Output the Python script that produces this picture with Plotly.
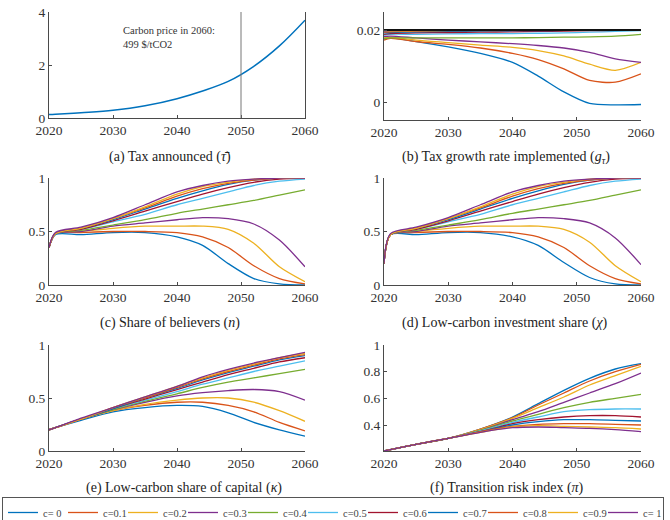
import plotly.graph_objects as go

W, H = 670, 520

YEARS = [2020, 2021, 2025, 2030, 2035, 2040, 2044, 2048, 2052, 2056, 2060]
C_LABELS = ["c= 0", "c=0.1", "c=0.2", "c=0.3", "c=0.4", "c=0.5",
            "c=0.6", "c=0.7", "c=0.8", "c=0.9", "c= 1"]
COLORS = ["#0072BD", "#D95319", "#EDB120", "#7E2F8E", "#77AC30", "#4DBEEE",
          "#A2142F", "#0072BD", "#D95319", "#EDB120", "#7E2F8E"]

# (a) tax announced
TAU = [0.13, 0.14, 0.20, 0.29, 0.46, 0.73, 1.02, 1.38, 1.95, 2.72, 3.69]
TAU_LINE_YEAR = 2050
ANNOUNCED_G = [0.02] * len(YEARS)

# (b) tax growth rate implemented
G = [
    [0.0175, 0.0178, 0.0168, 0.0153, 0.0135, 0.0110, 0.0072, 0.0028, -0.0004, -0.0008, -0.0007],
    [0.0172, 0.0177, 0.0168, 0.0160, 0.0150, 0.0135, 0.0118, 0.0092, 0.0060, 0.0055, 0.0078],
    [0.0178, 0.0180, 0.0172, 0.0165, 0.0158, 0.0152, 0.0143, 0.0128, 0.0105, 0.0088, 0.0110],
    [0.0182, 0.0183, 0.0178, 0.0172, 0.0167, 0.0162, 0.0157, 0.0150, 0.0138, 0.0120, 0.0110],
    [0.0176, 0.0178, 0.0178, 0.0178, 0.0178, 0.0178, 0.0179, 0.0180, 0.0181, 0.0183, 0.0188],
    [0.0186, 0.0188, 0.0188, 0.0189, 0.0190, 0.0190, 0.0191, 0.0192, 0.0194, 0.0196, 0.0198],
    [0.0188, 0.0190, 0.0192, 0.0193, 0.0194, 0.0195, 0.0196, 0.0197, 0.0198, 0.0199, 0.0200],
    [0.0192, 0.0193, 0.0195, 0.0196, 0.0197, 0.0198, 0.0198, 0.0199, 0.0200, 0.0200, 0.0200],
    [0.0194, 0.0195, 0.0197, 0.0198, 0.0198, 0.0199, 0.0199, 0.0200, 0.0200, 0.0200, 0.0200],
    [0.0196, 0.0197, 0.0198, 0.0199, 0.0199, 0.0200, 0.0200, 0.0200, 0.0200, 0.0200, 0.0200],
    [0.0197, 0.0198, 0.0199, 0.0200, 0.0200, 0.0200, 0.0200, 0.0200, 0.0200, 0.0200, 0.0200],
]

# (c) share of believers
N = [
    [0.35, 0.47, 0.47, 0.49, 0.49, 0.45, 0.37, 0.20, 0.06, 0.01, 0.00],
    [0.35, 0.48, 0.49, 0.50, 0.50, 0.49, 0.45, 0.35, 0.18, 0.06, 0.01],
    [0.35, 0.48, 0.50, 0.53, 0.55, 0.55, 0.55, 0.52, 0.39, 0.17, 0.03],
    [0.35, 0.48, 0.50, 0.55, 0.58, 0.61, 0.63, 0.62, 0.57, 0.42, 0.17],
    [0.35, 0.48, 0.51, 0.56, 0.61, 0.67, 0.71, 0.75, 0.79, 0.84, 0.89],
    [0.35, 0.48, 0.52, 0.59, 0.66, 0.75, 0.81, 0.87, 0.93, 0.97, 0.99],
    [0.35, 0.48, 0.52, 0.60, 0.69, 0.78, 0.85, 0.91, 0.96, 0.99, 1.00],
    [0.35, 0.48, 0.53, 0.61, 0.71, 0.81, 0.88, 0.94, 0.98, 1.00, 1.00],
    [0.35, 0.48, 0.53, 0.62, 0.72, 0.83, 0.90, 0.95, 0.98, 1.00, 1.00],
    [0.35, 0.48, 0.53, 0.62, 0.73, 0.85, 0.92, 0.96, 0.99, 1.00, 1.00],
    [0.35, 0.49, 0.54, 0.63, 0.75, 0.87, 0.93, 0.97, 0.99, 1.00, 1.00],
]

# (d) low-carbon investment share
CHI = [
    [0.20, 0.47, 0.47, 0.49, 0.49, 0.45, 0.37, 0.21, 0.07, 0.01, 0.00],
    [0.20, 0.47, 0.49, 0.50, 0.50, 0.49, 0.45, 0.35, 0.18, 0.06, 0.01],
    [0.20, 0.47, 0.50, 0.53, 0.55, 0.55, 0.55, 0.52, 0.40, 0.18, 0.03],
    [0.20, 0.47, 0.50, 0.55, 0.58, 0.61, 0.63, 0.62, 0.58, 0.44, 0.19],
    [0.20, 0.47, 0.51, 0.56, 0.61, 0.67, 0.71, 0.75, 0.79, 0.84, 0.89],
    [0.20, 0.47, 0.52, 0.59, 0.66, 0.75, 0.81, 0.87, 0.93, 0.97, 0.99],
    [0.20, 0.47, 0.52, 0.60, 0.69, 0.78, 0.85, 0.91, 0.96, 0.99, 1.00],
    [0.20, 0.47, 0.53, 0.61, 0.71, 0.81, 0.88, 0.94, 0.98, 1.00, 1.00],
    [0.20, 0.47, 0.53, 0.62, 0.72, 0.83, 0.90, 0.95, 0.98, 1.00, 1.00],
    [0.20, 0.47, 0.53, 0.62, 0.73, 0.85, 0.92, 0.96, 0.99, 1.00, 1.00],
    [0.20, 0.48, 0.54, 0.63, 0.75, 0.87, 0.93, 0.97, 0.99, 1.00, 1.00],
]

# (e) low-carbon share of capital
KAPPA = [
    [0.20, 0.22, 0.29, 0.37, 0.41, 0.43, 0.42, 0.36, 0.27, 0.20, 0.14],
    [0.20, 0.22, 0.30, 0.38, 0.43, 0.46, 0.46, 0.43, 0.37, 0.27, 0.19],
    [0.20, 0.22, 0.30, 0.38, 0.44, 0.48, 0.50, 0.50, 0.46, 0.38, 0.28],
    [0.20, 0.22, 0.30, 0.39, 0.46, 0.52, 0.55, 0.57, 0.58, 0.56, 0.48],
    [0.20, 0.22, 0.30, 0.39, 0.47, 0.54, 0.60, 0.65, 0.69, 0.73, 0.77],
    [0.20, 0.22, 0.30, 0.40, 0.48, 0.56, 0.63, 0.69, 0.75, 0.80, 0.85],
    [0.20, 0.22, 0.30, 0.40, 0.49, 0.58, 0.65, 0.72, 0.78, 0.84, 0.88],
    [0.20, 0.22, 0.30, 0.40, 0.50, 0.59, 0.67, 0.74, 0.80, 0.86, 0.90],
    [0.20, 0.22, 0.30, 0.41, 0.50, 0.60, 0.68, 0.75, 0.81, 0.87, 0.91],
    [0.20, 0.22, 0.30, 0.41, 0.51, 0.61, 0.69, 0.76, 0.82, 0.88, 0.92],
    [0.20, 0.22, 0.31, 0.41, 0.51, 0.61, 0.70, 0.77, 0.83, 0.88, 0.93],
]

# (f) transition risk index
PI = [
    [0.205, 0.215, 0.255, 0.30, 0.370, 0.460, 0.560, 0.660, 0.750, 0.820, 0.860],
    [0.205, 0.215, 0.255, 0.30, 0.370, 0.455, 0.550, 0.640, 0.730, 0.800, 0.855],
    [0.205, 0.215, 0.255, 0.30, 0.365, 0.450, 0.530, 0.610, 0.700, 0.770, 0.840],
    [0.205, 0.215, 0.255, 0.30, 0.360, 0.440, 0.500, 0.570, 0.640, 0.710, 0.790],
    [0.205, 0.215, 0.255, 0.30, 0.360, 0.430, 0.480, 0.530, 0.570, 0.600, 0.630],
    [0.205, 0.215, 0.255, 0.30, 0.355, 0.420, 0.460, 0.500, 0.515, 0.520, 0.520],
    [0.205, 0.215, 0.255, 0.30, 0.350, 0.410, 0.440, 0.460, 0.470, 0.470, 0.460],
    [0.205, 0.215, 0.255, 0.30, 0.350, 0.400, 0.425, 0.440, 0.440, 0.435, 0.430],
    [0.205, 0.215, 0.255, 0.30, 0.350, 0.390, 0.405, 0.410, 0.410, 0.405, 0.400],
    [0.205, 0.215, 0.255, 0.30, 0.345, 0.385, 0.395, 0.390, 0.385, 0.380, 0.370],
    [0.205, 0.215, 0.255, 0.30, 0.345, 0.380, 0.385, 0.380, 0.375, 0.365, 0.350],
]

TITLES = [
    "(a) Tax announced (<i>τ̄</i>)",
    "(b) Tax growth rate implemented (<i>g<sub>τ</sub></i>)",
    "(c) Share of believers (<i>n</i>)",
    "(d) Low-carbon investment share (<i>χ</i>)",
    "(e) Low-carbon share of capital (<i>κ</i>)",
    "(f) Transition risk index (<i>π</i>)",
]

FONT = "Liberation Serif"
AXC = "#4a4a4a"

# pixel boxes of plot areas: (x0, x1, ytop, ybottom)
BOXES = [
    (49, 305, 12, 118),
    (384, 641, 12, 120),
    (49, 305, 178, 285),
    (384, 641, 178, 285),
    (49, 305, 345, 451),
    (384, 641, 345, 451),
]
YRANGES = [[0, 4], [-0.005, 0.025], [0, 1], [0, 1], [0, 1], [0.205, 1]]
YDTICK = [2, 0.02, 0.5, 0.5, 0.5, 0.2]
TITLE_POS = [(170, 157), (506, 157), (170, 323), (505, 323), (184, 488), (507, 488)]

fig = go.Figure()

def ax(i):
    return ("x" if i == 0 else f"x{i+1}"), ("y" if i == 0 else f"y{i+1}")

# (a)
xa, ya = ax(0)
fig.add_trace(go.Scatter(x=YEARS, y=TAU, mode="lines", line=dict(color="#0072BD", width=1.5, shape="spline"),
                         xaxis=xa, yaxis=ya, showlegend=False))

# (b)-(f)
panels = [G, N, CHI, KAPPA, PI]
for p, data in enumerate(panels):
    xa, ya = ax(p + 1)
    for k, series in enumerate(data):
        fig.add_trace(go.Scatter(x=YEARS, y=series, mode="lines", name=C_LABELS[k],
                                 line=dict(color=COLORS[k], width=1.3, shape="spline", smoothing=0.8),
                                 xaxis=xa, yaxis=ya, showlegend=(p == 0), legendrank=k + 1))
    if p == 0:
        fig.add_trace(go.Scatter(x=YEARS, y=ANNOUNCED_G, mode="lines", line=dict(color="#111111", width=2),
                                 xaxis=xa, yaxis=ya, showlegend=False))

layout = dict(width=W, height=H, margin=dict(l=0, r=0, t=0, b=0, autoexpand=False),
              paper_bgcolor="white", plot_bgcolor="white",
              font=dict(family=FONT, size=13, color="#222"))

for i, (x0, x1, yt, yb) in enumerate(BOXES):
    xk = "xaxis" if i == 0 else f"xaxis{i+1}"
    yk = "yaxis" if i == 0 else f"yaxis{i+1}"
    xa, ya = ax(i)
    layout[xk] = dict(domain=[x0 / W, x1 / W], range=[2020, 2060], dtick=10, tick0=2020,
                      anchor=ya, showline=True, linecolor=AXC, linewidth=1, ticks="inside",
                      ticklen=3, tickcolor=AXC, showgrid=False, zeroline=False,
                      tickfont=dict(size=13.5, family=FONT, color="#333"))
    layout[yk] = dict(domain=[1 - yb / H, 1 - yt / H], range=YRANGES[i], dtick=YDTICK[i], tick0=0,
                      anchor=xa, showline=True, linecolor=AXC, linewidth=1, ticks="inside",
                      ticklen=3, tickcolor=AXC, showgrid=False, zeroline=False,
                      mirror=(i == 0),
                      tickfont=dict(size=13.5, family=FONT, color="#333"))

annotations = []
for i, (cx, cy) in enumerate(TITLE_POS):
    annotations.append(dict(text=TITLES[i], x=cx / W, y=1 - cy / H, xref="paper", yref="paper",
                            showarrow=False, xanchor="center", yanchor="middle",
                            font=dict(family=FONT, size=14, color="#222")))
annotations.append(dict(text="Carbon price in 2060:<br>499 $/tCO2", x=2031.3, y=3.05, xref="x", yref="y",
                        showarrow=False, xanchor="left", yanchor="middle", align="left",
                        font=dict(family=FONT, size=10.5, color="#333")))
layout["annotations"] = annotations

layout["shapes"] = [dict(type="line", xref="x", yref="y domain", x0=TAU_LINE_YEAR, x1=TAU_LINE_YEAR,
                         y0=0, y1=1, line=dict(color="#777", width=1))]

layout["legend"] = dict(orientation="h", x=2 / W, y=1 - 497 / H, xanchor="left", yanchor="top",
                        bordercolor="#555", borderwidth=1, bgcolor="white",
                        font=dict(family=FONT, size=10.5, color="#444"),
                        entrywidth=15, entrywidthmode="pixels", itemwidth=30, tracegroupgap=0)

fig.update_layout(**layout)
fig.write_html("out.html")
